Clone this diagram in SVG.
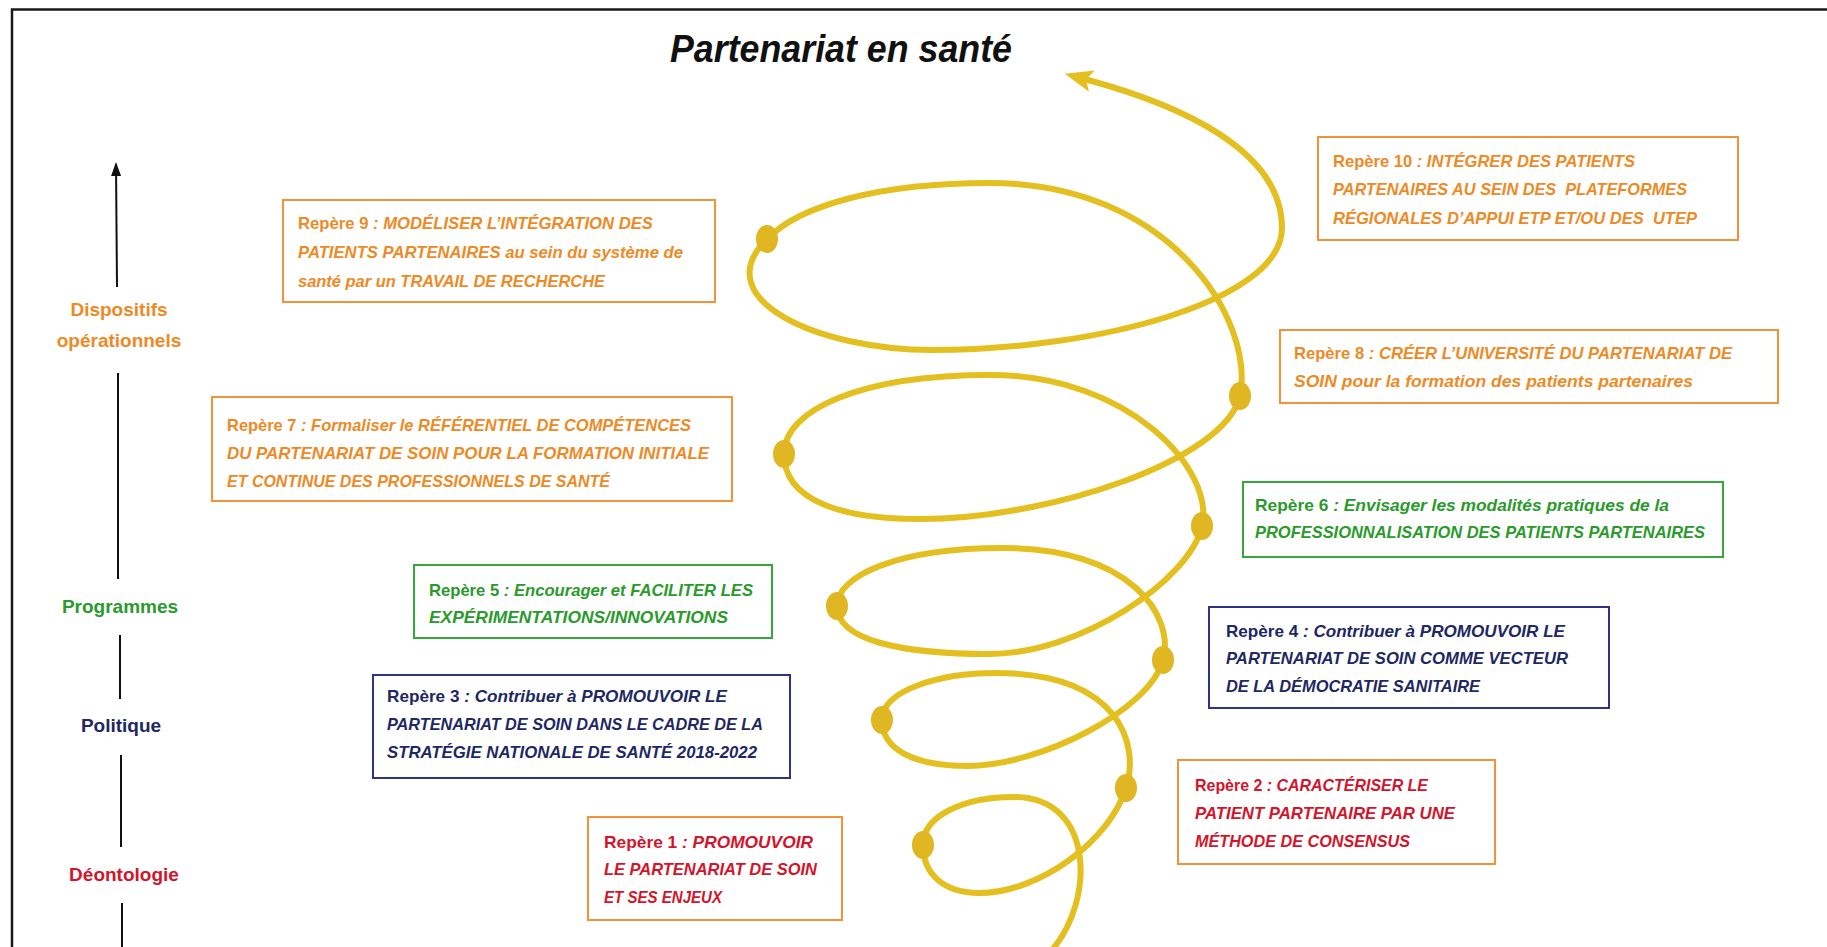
<svg xmlns="http://www.w3.org/2000/svg" width="1827" height="947" viewBox="0 0 1827 947">
<style>
.bx{fill:#fff;stroke-width:2}
.bo{stroke:#F39237}.bg{stroke:#36A83A}.bn{stroke:#2E3482}
.t{font-family:"Liberation Sans",Arial,sans-serif;font-size:17px;font-weight:bold}
.i{font-style:italic}
.co{fill:#EE8A25}.cg{fill:#2A9A2C}.cn{fill:#1E2862}.cr{fill:#D3142B}
.lab{font-family:"Liberation Sans",Arial,sans-serif;font-size:19px;font-weight:bold;text-anchor:middle}
.ax{stroke:#111;stroke-width:2;fill:none}
.sp{fill:none;stroke:#E4BF20;stroke-width:6;stroke-linecap:round;stroke-linejoin:round}
.dot{fill:#E0B623}
</style>
<defs>
<marker id="axh" viewBox="0 0 14 10" refX="12" refY="5" markerWidth="14" markerHeight="10" markerUnits="userSpaceOnUse" orient="auto"><path d="M0,0 L14,5 L0,10 z" fill="#111"/></marker>
<marker id="sph" viewBox="0 0 28 22" refX="4" refY="11" markerWidth="28" markerHeight="22" markerUnits="userSpaceOnUse" orient="auto"><path d="M0,0 L28,11 L0,22 L6,11 z" fill="#E4BF20"/></marker>
</defs>
<rect width="1827" height="947" fill="#fff"/>
<path d="M12,947 L12,9.5 L1827,9.5" fill="none" stroke="#1a1a1a" stroke-width="2.5"/>
<text x="670" y="62" textLength="342" lengthAdjust="spacingAndGlyphs" style="font-family:'Liberation Sans',Arial,sans-serif;font-size:38px;font-style:italic;font-weight:bold" fill="#111">Partenariat en santé</text>

<g id="axis">
<line class="ax" x1="117" y1="287" x2="116" y2="164" style="marker-end:url(#axh)"/>
<line class="ax" x1="118" y1="373" x2="118" y2="579"/>
<line class="ax" x1="120" y1="635" x2="120" y2="699"/>
<line class="ax" x1="121" y1="755" x2="121" y2="847"/>
<line class="ax" x1="122" y1="903" x2="122" y2="947"/>
<text class="lab co" x="119" y="316">Dispositifs</text>
<text class="lab co" x="119" y="347">opérationnels</text>
<text class="lab cg" x="120" y="613">Programmes</text>
<text class="lab cn" x="121" y="732">Politique</text>
<text class="lab cr" x="124" y="881">Déontologie</text>
</g>

<g id="connectors">
<path class="sp" style="marker-end:url(#sph)" d="M1052,950 C1095,900 1095,797 1014,797 C965,797 923,815 923,845 C923,875 945,893 979,893 C1040,893 1110,840 1126,788 C1140,745 1120,673 996,673 C940,673 882,690 882,720 C882,750 915,766 967,766 C1040,766 1150,710 1163,660 C1175,615 1130,548 1002,548 C900,548 837,575 837,606 C837,640 900,654 990,654 C1080,654 1190,580 1202,526 C1215,470 1130,375 990,375 C860,375 784,410 784,454 C784,500 840,519 920,519 C1050,519 1225,460 1240,396 C1255,320 1170,183 990,183 C880,183 800,205 767,239 C705,300 820,350 932,350 C1100,350 1282,300 1282,228 C1282,150 1180,105 1088,80"/>
<ellipse class="dot" cx="923" cy="845" rx="11" ry="14"/>
<ellipse class="dot" cx="1126" cy="788" rx="11" ry="14"/>
<ellipse class="dot" cx="882" cy="720" rx="11" ry="14"/>
<ellipse class="dot" cx="1163" cy="660" rx="11" ry="14"/>
<ellipse class="dot" cx="837" cy="606" rx="11" ry="14"/>
<ellipse class="dot" cx="1202" cy="526" rx="11" ry="14"/>
<ellipse class="dot" cx="784" cy="454" rx="11" ry="14"/>
<ellipse class="dot" cx="1240" cy="396" rx="11" ry="14"/>
<ellipse class="dot" cx="767" cy="239" rx="11" ry="14"/>
</g>

<g id="repere9">
<rect class="bx bo" x="283" y="200" width="432" height="102"/>
<text class="t co" x="298" y="229" textLength="355" lengthAdjust="spacingAndGlyphs">Repère 9<tspan class="i"> : MODÉLISER L’INTÉGRATION DES</tspan></text>
<text class="t co i" x="298" y="258" textLength="385" lengthAdjust="spacingAndGlyphs">PATIENTS PARTENAIRES au sein du système de</text>
<text class="t co i" x="298" y="287" textLength="307" lengthAdjust="spacingAndGlyphs">santé par un TRAVAIL DE RECHERCHE</text>
</g>

<g id="repere10">
<rect class="bx bo" x="1318" y="137" width="420" height="103"/>
<text class="t co" x="1333" y="167" textLength="302" lengthAdjust="spacingAndGlyphs">Repère 10<tspan class="i"> : INTÉGRER DES PATIENTS</tspan></text>
<text class="t co i" x="1333" y="195" textLength="354" lengthAdjust="spacingAndGlyphs" xml:space="preserve">PARTENAIRES AU SEIN DES  PLATEFORMES</text>
<text class="t co i" x="1333" y="224" textLength="364" lengthAdjust="spacingAndGlyphs" xml:space="preserve">RÉGIONALES D’APPUI ETP ET/OU DES  UTEP</text>
</g>

<g id="repere8">
<rect class="bx bo" x="1280" y="330" width="498" height="73"/>
<text class="t co" x="1294" y="359" textLength="438" lengthAdjust="spacingAndGlyphs">Repère 8<tspan class="i"> : CRÉER L’UNIVERSITÉ DU PARTENARIAT DE</tspan></text>
<text class="t co i" x="1294" y="387" textLength="399" lengthAdjust="spacingAndGlyphs">SOIN pour la formation des patients partenaires</text>
</g>

<g id="repere7">
<rect class="bx bo" x="212" y="397" width="520" height="104"/>
<text class="t co" x="227" y="431" textLength="464" lengthAdjust="spacingAndGlyphs">Repère 7<tspan class="i"> : Formaliser le RÉFÉRENTIEL DE COMPÉTENCES</tspan></text>
<text class="t co i" x="227" y="459" textLength="482" lengthAdjust="spacingAndGlyphs">DU PARTENARIAT DE SOIN POUR LA FORMATION INITIALE</text>
<text class="t co i" x="227" y="487" textLength="383" lengthAdjust="spacingAndGlyphs">ET CONTINUE DES PROFESSIONNELS DE SANTÉ</text>
</g>

<g id="repere6">
<rect class="bx bg" x="1243" y="482" width="480" height="75"/>
<text class="t cg" x="1255" y="511" textLength="414" lengthAdjust="spacingAndGlyphs">Repère 6<tspan class="i"> : Envisager les modalités pratiques de la</tspan></text>
<text class="t cg i" x="1255" y="538" textLength="450" lengthAdjust="spacingAndGlyphs">PROFESSIONNALISATION DES PATIENTS PARTENAIRES</text>
</g>

<g id="repere5">
<rect class="bx bg" x="414" y="565" width="358" height="73"/>
<text class="t cg" x="429" y="596" textLength="324" lengthAdjust="spacingAndGlyphs">Repère 5<tspan class="i"> : Encourager et FACILITER LES</tspan></text>
<text class="t cg i" x="429" y="623" textLength="299" lengthAdjust="spacingAndGlyphs">EXPÉRIMENTATIONS/INNOVATIONS</text>
</g>

<g id="repere4">
<rect class="bx bn" x="1209" y="607" width="400" height="101"/>
<text class="t cn" x="1226" y="637" textLength="339" lengthAdjust="spacingAndGlyphs">Repère 4<tspan class="i"> : Contribuer à PROMOUVOIR LE</tspan></text>
<text class="t cn i" x="1226" y="664" textLength="342" lengthAdjust="spacingAndGlyphs">PARTENARIAT DE SOIN COMME VECTEUR</text>
<text class="t cn i" x="1226" y="692" textLength="254" lengthAdjust="spacingAndGlyphs">DE LA DÉMOCRATIE SANITAIRE</text>
</g>

<g id="repere3">
<rect class="bx bn" x="373" y="675" width="417" height="103"/>
<text class="t cn" x="387" y="702" textLength="340" lengthAdjust="spacingAndGlyphs">Repère 3<tspan class="i"> : Contribuer à PROMOUVOIR LE</tspan></text>
<text class="t cn i" x="387" y="730" textLength="376" lengthAdjust="spacingAndGlyphs">PARTENARIAT DE SOIN DANS LE CADRE DE LA</text>
<text class="t cn i" x="387" y="758" textLength="370" lengthAdjust="spacingAndGlyphs">STRATÉGIE NATIONALE DE SANTÉ 2018-2022</text>
</g>

<g id="repere2">
<rect class="bx bo" x="1178" y="760" width="317" height="104"/>
<text class="t cr" x="1195" y="791" textLength="233" lengthAdjust="spacingAndGlyphs">Repère 2<tspan class="i"> : CARACTÉRISER LE</tspan></text>
<text class="t cr i" x="1195" y="819" textLength="260" lengthAdjust="spacingAndGlyphs">PATIENT PARTENAIRE PAR UNE</text>
<text class="t cr i" x="1195" y="847" textLength="215" lengthAdjust="spacingAndGlyphs">MÉTHODE DE CONSENSUS</text>
</g>

<g id="repere1">
<rect class="bx bo" x="588" y="817" width="254" height="103"/>
<text class="t cr" x="604" y="848" textLength="209" lengthAdjust="spacingAndGlyphs">Repère 1<tspan class="i"> : PROMOUVOIR</tspan></text>
<text class="t cr i" x="604" y="875" textLength="213" lengthAdjust="spacingAndGlyphs">LE PARTENARIAT DE SOIN</text>
<text class="t cr i" x="604" y="903" textLength="118" lengthAdjust="spacingAndGlyphs">ET SES ENJEUX</text>
</g>
</svg>
